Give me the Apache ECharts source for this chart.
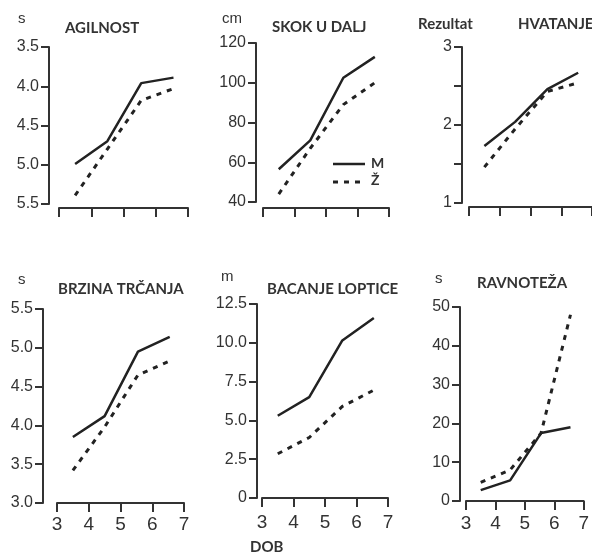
<!DOCTYPE html>
<html lang="hr">
<head>
<meta charset="UTF-8">
<title>Motoričke sposobnosti po dobi</title>
<script src="https://cdn.jsdelivr.net/npm/echarts@6/dist/echarts.min.js"></script>
<style>
  html, body { margin: 0; background: #fff; }
  #wrap { position: relative; width: 592px; height: 555px; }
  #main, #notes { position: absolute; left: 0; top: 0; width: 592px; height: 555px; }
  #notes { pointer-events: none; }
</style>
</head>
<body>
<div id="wrap">
  <div id="main"></div>
  <div id="notes"></div>
</div>
<script>
// ages (years) at which the group means were measured
const ages = [3.5, 4.5, 5.55, 6.55];

// M = boys, Ž = girls
const agilnostM = [4.99, 4.7, 3.96, 3.89];
const agilnostZ = [5.39, 4.8, 4.18, 4.03];
const skokM = [56.5, 71, 102.5, 113];
const skokZ = [44, 67, 89, 100];
const hvatanjeM = [1.73, 2.04, 2.46, 2.67];
const hvatanjeZ = [1.46, 1.95, 2.43, 2.54];
const brzinaM = [3.85, 4.12, 4.95, 5.14];
const brzinaZ = [3.42, 3.98, 4.65, 4.83];
const bacanjeM = [5.3, 6.5, 10.15, 11.6];
const bacanjeZ = [2.85, 3.9, 5.9, 6.95];
const ravnotezaM = [2.8, 5.3, 17.5, 19];
const ravnotezaZ = [4.8, 8, 17.5, 48];

const oneDec = v => v.toFixed(1);
const intOnly = v => (v % 1 === 0 ? String(v) : '');

// one entry per small chart
const panels = [
  { m: agilnostM, z: agilnostZ, min: 3.5, max: 5.5, step: 0.5, inverse: true, fmt: oneDec,
    grid: [59, 47, 129, 157], yOff: 10, xOff: 4, xLabels: false },
  { m: skokM, z: skokZ, min: 40, max: 120, step: 20, fmt: intOnly,
    grid: [263, 43, 126, 159], yOff: 7, xOff: 6, xLabels: false },
  { m: hvatanjeM, z: hvatanjeZ, min: 1, max: 3, step: 0.5, fmt: intOnly,
    grid: [469, 47, 129, 156], yOff: 7, xOff: 4, xLabels: false },
  { m: brzinaM, z: brzinaZ, min: 3, max: 5.5, step: 0.5, fmt: oneDec,
    grid: [57, 309, 127, 194], yOff: 14, xOff: 0, xLabels: true },
  { m: bacanjeM, z: bacanjeZ, min: 0, max: 12.5, step: 2.5, fmt: v => (v === 0 ? '0' : v.toFixed(1)),
    grid: [262, 304, 126, 194], yOff: 5, xOff: 3, xLabels: true },
  { m: ravnotezaM, z: ravnotezaZ, min: 0, max: 50, step: 10, fmt: intOnly,
    grid: [466, 307, 124, 194], yOff: 6, xOff: 1, xLabels: true }
];

const ink = '#222';
const axisInk = '#333';
const numFont = 'Liberation Sans';
const headFont = 'Lato';

// [text, left, top, bold]
const texts = [
  ['s', 18, 11, false], ['cm', 222, 11, false], ['Rezultat', 418, 17, true],
  ['s', 18, 272, false], ['m', 221, 269, false], ['s', 435, 271, false],
  ['AGILNOST', 65, 21, true], ['SKOK U DALJ', 272, 20, true], ['HVATANJE', 518, 17, true],
  ['BRZINA TRČANJA', 58, 282, true], ['BACANJE LOPTICE', 267, 282, true], ['RAVNOTEŽA', 477, 276, true],
  ['DOB', 250, 540, true]
];

const chart = echarts.init(document.getElementById('main'));

const grids = [], xAxes = [], yAxes = [], series = [];
panels.forEach((p, i) => {
  grids.push({ left: p.grid[0], top: p.grid[1], width: p.grid[2], height: p.grid[3] });
  xAxes.push({
    type: 'value', gridIndex: i, min: 3, max: 7, interval: 1, offset: p.xOff,
    axisLine: { lineStyle: { color: axisInk, width: 2 } },
    axisTick: { length: 9, lineStyle: { color: axisInk, width: 2 } },
    axisLabel: { show: p.xLabels, color: axisInk, fontFamily: numFont, fontSize: 19, margin: 12 },
    splitLine: { show: false }
  });
  yAxes.push({
    type: 'value', gridIndex: i, position: 'left', z: 20,
    min: p.min, max: p.max, interval: p.step,
    inverse: !!p.inverse, offset: p.yOff,
    axisLine: { show: true, onZero: true, lineStyle: { color: axisInk, width: 2 } },
    axisTick: { show: true, length: 8, lineStyle: { color: axisInk, width: 2 } },
    axisLabel: { color: axisInk, fontFamily: numFont, fontSize: 16, margin: 10, formatter: p.fmt },
    splitLine: { show: false }
  });
  series.push({
    name: 'M', type: 'line', xAxisIndex: i, yAxisIndex: i, symbol: 'none', silent: true,
    data: ages.map((a, k) => [a, p.m[k]]),
    lineStyle: { color: ink, width: 2.5 }, itemStyle: { color: ink }
  });
  series.push({
    name: 'Ž', type: 'line', xAxisIndex: i, yAxisIndex: i, symbol: 'none', silent: true,
    data: ages.map((a, k) => [a, p.z[k]]),
    lineStyle: { color: ink, width: 3, type: [5, 6] }, itemStyle: { color: ink }
  });
});

chart.setOption({
  animation: false,
  backgroundColor: '#fff',
  grid: grids,
  xAxis: xAxes,
  yAxis: yAxes,
  series: series
});

// headings, units and the line key on a transparent layer on top
const notes = echarts.init(document.getElementById('notes'));
const key = [
  { type: 'line', shape: { x1: 333, y1: 164, x2: 365, y2: 164 }, style: { stroke: ink, lineWidth: 2.5 } },
  { type: 'line', shape: { x1: 333, y1: 182, x2: 365, y2: 182 }, style: { stroke: ink, lineWidth: 3, lineDash: [5, 6] } },
  { type: 'text', left: 371, top: 156, style: { text: 'M', fill: axisInk, font: `bold 14px ${headFont}` } },
  { type: 'text', left: 371, top: 173, style: { text: 'Ž', fill: axisInk, font: `bold 14px ${headFont}` } }
];
notes.setOption({
  animation: false,
  backgroundColor: 'transparent',
  graphic: texts.map(t => ({
    type: 'text', left: t[1], top: t[2],
    style: {
      text: t[0], fill: axisInk,
      font: t[3] ? `bold 15px ${headFont}` : `15px "${numFont}"`
    }
  })).concat(key)
});
</script>
</body>
</html>
